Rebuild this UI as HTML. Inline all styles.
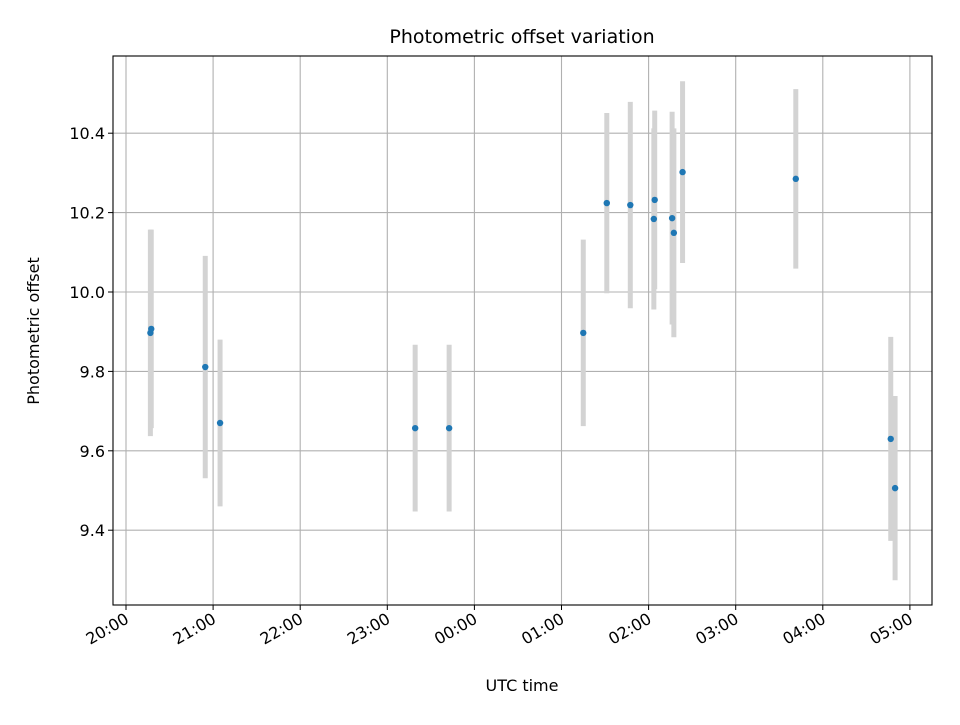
<!DOCTYPE html>
<html><head><meta charset="utf-8"><style>
html,body{margin:0;padding:0;background:#fff;}
svg text{font-family:"DejaVu Sans","Liberation Sans",sans-serif;fill:#000;}
</style></head><body>
<svg id="chart" width="960" height="720" xmlns="http://www.w3.org/2000/svg">
<rect x="0" y="0" width="960" height="720" fill="#fff"/>
<g id="grid"></g><g id="errs"></g><g id="pts"></g><g id="axes"></g>
<text x="522" y="43" font-size="19" text-anchor="middle">Photometric offset variation</text>
<text x="522" y="691" font-size="16" text-anchor="middle">UTC time</text>
<text transform="translate(39,331) rotate(-90)" font-size="16" text-anchor="middle">Photometric offset</text>
</svg>
<script>
// hours since 20:00 UTC
const times = [0.28,0.29,0.91,1.08,3.32,3.71,5.25,5.52,5.79,6.07,6.06,6.27,6.29,6.39,7.69,8.78,8.83];
const offsets = [9.897,9.907,9.811,9.670,9.657,9.657,9.897,10.224,10.219,10.232,10.184,10.186,10.149,10.302,10.285,9.630,9.506];
const errors = [0.26,0.25,0.28,0.21,0.21,0.21,0.235,0.227,0.26,0.225,0.228,0.268,0.263,0.229,0.226,0.257,0.232];
const xTicks = [0,1,2,3,4,5,6,7,8,9];
const xTickLabels = ["20:00","21:00","22:00","23:00","00:00","01:00","02:00","03:00","04:00","05:00"];
const yTicks = [9.4,9.6,9.8,10.0,10.2,10.4];
const yTickLabels = ["9.4","9.6","9.8","10.0","10.2","10.4"];

const L=113,R=932,T=56,B=605;
function xs(h){return 126+h*87.1;}
function ys(v){return 292-(v-10)*397;}
const NS="http://www.w3.org/2000/svg";
function mk(tag,attrs,parent){const e=document.createElementNS(NS,tag);for(const k in attrs)e.setAttribute(k,attrs[k]);parent.appendChild(e);return e;}
const grid=document.getElementById('grid'),errs=document.getElementById('errs'),pts=document.getElementById('pts'),axes=document.getElementById('axes');
xTicks.forEach((t,i)=>{
  const x=xs(t);
  const g=mk('line',{x1:x,x2:x,y1:T,y2:B,stroke:'#b0b0b0','stroke-width':1.1},grid);
  
  
  mk('line',{x1:x,x2:x,y1:B,y2:B+5,stroke:'#000','stroke-width':1},axes);
  const tx=mk('text',{x:x+4,y:B+17,'font-size':16,'text-anchor':'end',transform:`rotate(-30 ${x+4} ${B+17})`},axes);
  tx.textContent=xTickLabels[i];
  
  
});
yTicks.forEach((t,i)=>{
  const y=ys(t);
  const g=mk('line',{x1:L,x2:R,y1:y,y2:y,stroke:'#b0b0b0','stroke-width':1.1},grid);
  
  
  mk('line',{x1:L-5,x2:L,y1:y,y2:y,stroke:'#000','stroke-width':1},axes);
  const tx=mk('text',{x:L-8,y:y+6,'font-size':16,'text-anchor':'end'},axes);
  tx.textContent=yTickLabels[i];
  
  
});
times.forEach((t,i)=>{
  const x=xs(t);
  const e=mk('line',{x1:x,x2:x,y1:ys(offsets[i]+errors[i]),y2:ys(offsets[i]-errors[i]),stroke:'#d3d3d3','stroke-width':5},errs);
  
  
  const c=mk('circle',{cx:x,cy:ys(offsets[i]),r:3.2,fill:'#1f77b4'},pts);
  
  
});
const fr=mk('rect',{x:L,y:T,width:R-L,height:B-T,fill:'none',stroke:'#000','stroke-width':1.1},axes);


</script>
</body></html>
